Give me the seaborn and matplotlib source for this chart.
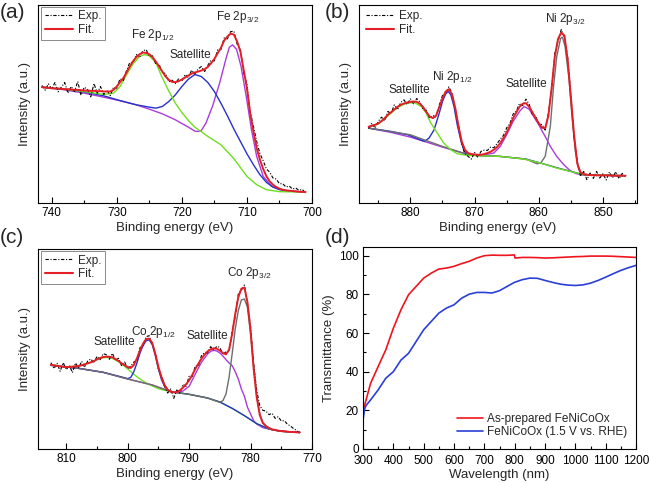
import matplotlib
matplotlib.use("Agg")
import matplotlib.pyplot as plt
from matplotlib.lines import Line2D
from matplotlib.ticker import MultipleLocator
import numpy as np
import seaborn as sns

# ---------------- (a) Fe 2p ----------------
fe_energy = np.arange(741.5, 700.9, -0.5)
fe_exp = [353, 339, 358, 342, 362, 334, 349, 362, 330, 350, 335, 365, 324, 348, 341, 319, 359, 330, 350, 326, 339, 323,
          348, 345, 373, 368, 398, 422, 422, 446, 438, 457, 461, 441, 442, 417, 417, 392, 389, 364, 369, 359,
          373, 366, 386, 377, 399, 388, 403, 410, 395, 414, 429, 427, 460, 461, 496, 493, 515, 516, 477, 460,
          390, 357, 275, 230, 185, 148, 127, 102, 93, 75, 72, 58, 58, 48, 51, 42, 45, 38, 41, 30]
fe_fit = [348, 347, 346, 345, 344, 344, 343, 342, 342, 341, 340, 340, 339, 338, 338, 337, 337, 336, 336, 335, 335, 335,
          340, 350, 363, 375, 392, 410, 426, 438, 447, 452, 451, 447, 438, 425, 410, 395, 380, 370, 364, 363,
          366, 371, 377, 383, 389, 392, 395, 398, 402, 409, 420, 433, 450, 466, 488, 500, 509, 506, 485, 455,
          400, 345, 270, 215, 165, 130, 102, 80, 65, 55, 48, 43, 40, 38, 37, 36, 35, 34, 33.5, 33]
fe_p12_e = [741.5, 738, 735, 732, 730.5, 729.5, 728.5, 727.5, 726.5, 725.7, 725, 724, 723, 722, 721, 720, 719, 718,
            716, 714, 712, 710, 708.5, 707, 705, 701]
fe_p12 = [348, 342, 335, 326, 330, 350, 385, 418, 440, 446, 442, 422, 376, 336, 300, 272, 248, 228,
          200, 175, 133, 80, 55, 40, 34, 33]
fe_sat_e = [741.5, 738, 735, 732, 729, 727, 725, 724, 723, 722, 721, 720, 719, 718, 717, 716, 715, 714, 713, 712,
            711, 710, 709, 708, 707, 706, 705, 703, 701]
fe_sat = [348, 342, 334, 322, 305, 295, 288, 285, 290, 305, 325, 350, 372, 386, 380, 362, 335, 300, 262, 222,
          185, 148, 115, 85, 62, 48, 40, 35, 33]
fe_p32_e = [741.5, 738, 735, 732, 729, 727, 725, 723, 721, 719, 718, 717.5, 717, 716.3, 715.3, 714.2, 713.2, 712.7,
            712.2, 711.6, 710.9, 710.1, 709.3, 708.5, 707.5, 706.2, 704.4, 702, 701]
fe_p32 = [348, 340, 330, 318, 305, 295, 282, 268, 250, 228, 216, 215, 218, 240, 290, 360, 435, 468,
          475, 462, 410, 320, 220, 140, 80, 50, 38, 34, 33]

# ---------------- (b) Ni 2p ----------------
ni_energy = np.arange(886.5, 846.4, -0.5)
ni_exp = [224, 240, 225, 245, 258, 247, 275, 269, 295, 280, 302, 310, 296, 313,
          298, 314, 303, 280, 279, 255, 263, 258, 294, 323, 330, 349, 329, 279,
          235, 177, 148, 140, 132, 152, 137, 155, 159, 158, 168, 166, 178, 192,
          203, 226, 238, 267, 276, 299, 293, 312, 297, 267, 262, 236, 236, 219,
          270, 339, 450, 486, 521, 498, 438, 324, 195, 128, 80, 95, 70, 90,
          74, 95, 75, 88, 69, 93, 76, 94, 73, 89, 78]
ni_fit = [229, 232, 235, 239, 246, 255, 265, 273, 281, 289, 295, 299, 302, 304,
          305, 304, 298, 288, 273, 260, 255, 262, 288, 314, 335, 342, 325, 285,
          230, 185, 160, 150, 147, 146, 145, 145, 147, 150, 154, 160, 168, 180,
          195, 212, 232, 255, 272, 289, 298, 300, 289, 273, 255, 240, 226, 225,
          262, 345, 440, 493, 512, 503, 430, 318, 205, 118, 92, 87, 85, 84,
          84, 83, 83, 83, 83, 83, 82, 82, 82, 82, 82]
ni_sat1_e = [886.5, 885, 883.5, 882, 880.7, 879.4, 878.3, 877.6, 876.8, 875.8, 874.8, 873.7, 872.7, 871.1, 869,
             866, 862.3, 859.7, 857.2, 855.1, 854, 853, 846.5]
ni_sat1 = [229, 237, 262, 287, 299, 302, 290, 272, 240, 210, 180, 160, 148, 143, 142,
           140, 132, 120, 105, 95, 90, 85, 82]
ni_p12_e = [886.5, 883, 880.4, 877.8, 877.1, 876.3, 875.5, 875, 874.5, 874.1, 873.7, 873.2, 872.7, 872.1, 871.6,
            870.9, 869, 866, 862, 859.7, 857, 855, 854, 853, 846.5]
ni_p12 = [225, 215, 205, 185, 195, 220, 270, 305, 328, 335, 325, 290, 235, 185, 155,
          145, 142, 140, 132, 120, 105, 95, 90, 85, 82]
ni_sat2_e = [886.5, 883, 880, 877.5, 875, 872.7, 871, 869, 867, 866, 865, 864, 863, 862.3, 861.5, 860.8, 860,
             859.5, 859, 858.2, 857.2, 856.1, 855.1, 854.1, 853, 846.5]
ni_sat2 = [225, 212, 198, 183, 168, 155, 146, 143, 150, 170, 205, 245, 275, 290, 282, 260, 235,
           217, 200, 170, 140, 115, 97, 88, 84, 82]
ni_p32_e = [886.5, 880, 875, 871, 866, 862, 860.3, 859.7, 859, 858.2, 857.7, 857.2, 856.6, 856.3, 855.9, 855.3,
            854.8, 854.3, 853.8, 853.3, 852, 846.5]
ni_p32 = [225, 205, 170, 145, 140, 132, 118, 120, 140, 230, 350, 440, 495, 498, 470, 375,
          255, 155, 102, 88, 84, 82]

# ---------------- (c) Co 2p ----------------
co_energy = np.arange(812.5, 771.9, -0.5)
co_exp = [259, 241, 257, 233, 259, 238, 251, 229, 258, 243, 263, 245, 264, 270,
          258, 278, 268, 286, 283, 269, 287, 266, 272, 250, 261, 241, 249, 261,
          266, 304, 311, 337, 340, 312, 290, 238, 221, 188, 168, 180, 152, 177,
          168, 194, 188, 218, 217, 249, 249, 280, 289, 288, 307, 296, 308, 305,
          283, 292, 292, 352, 397, 465, 476, 492, 434, 367, 255, 175, 130, 116,
          114, 103, 107, 92, 97, 84, 85, 74, 69, 61, 56, 46]
co_fit = [253, 251, 249, 248, 247, 246, 246, 247, 248, 249, 251, 254, 257, 260,
          264, 269, 273, 276, 277, 277, 275, 270, 264, 257, 251, 246, 243, 252,
          272, 296, 316, 330, 331, 318, 285, 246, 215, 192, 178, 172, 170, 171,
          176, 184, 194, 206, 222, 240, 256, 270, 283, 293, 299, 302, 301, 295,
          288, 284, 298, 345, 405, 455, 481, 484, 440, 355, 240, 155, 102, 78,
          69, 63, 59, 57, 55, 54, 53, 52, 51, 51, 50, 50]
co_sat1_e = [812.5, 810, 808, 806, 804.5, 803.5, 802.5, 801.5, 800.5, 800, 799.5, 799, 798, 797, 796, 795, 794,
             793, 790, 787, 785, 783, 781, 779, 777, 775, 772]
co_sat1 = [253, 246, 249, 260, 272, 275, 272, 262, 248, 240, 232, 224, 210, 198, 189, 181, 176,
           172, 164, 153, 141, 122, 100, 76, 60, 53, 50]
co_p12_e = [812.5, 808, 804, 801, 800, 799.5, 799, 798.5, 798, 797.5, 797, 796.5, 796, 795.5, 795, 794.5, 794,
            793.5, 793, 790, 787, 785, 783, 781, 779, 777, 775, 772]
co_p12 = [251, 242, 230, 216, 211, 215, 232, 258, 288, 310, 325, 327, 313, 280, 240, 208, 188,
          177, 172, 164, 153, 141, 122, 100, 76, 60, 53, 50]
co_sat2_e = [812.5, 808, 804, 800, 796, 793, 792, 791, 790, 789, 788, 787, 786.5, 786, 785.5, 785, 784.5, 784,
             783.5, 783, 782.5, 782, 781.5, 781, 780.5, 780, 779.5, 779, 778, 776, 774, 772]
co_sat2 = [251, 242, 230, 210, 192, 172, 169, 174, 188, 225, 260, 285, 293, 296, 294, 288, 279, 268,
           258, 250, 232, 210, 180, 158, 125, 105, 85, 75, 64, 56, 52, 50]
co_p32_e = [812.5, 808, 804, 800, 796, 793, 790, 787, 785.5, 785, 784.5, 784, 783.5, 783, 782.5, 782, 781.5, 781,
            780.5, 780, 779.5, 779, 778.5, 778, 777, 775, 772]
co_p32 = [251, 242, 230, 210, 192, 172, 164, 153, 143, 140, 145, 165, 215, 285, 360, 415, 447, 450,
          425, 345, 250, 160, 105, 78, 60, 53, 50]

# ---------------- (d) transmittance ----------------
wavelength = [300, 305, 310, 325, 350, 375, 400, 425, 450, 475, 500, 525, 550, 575, 600, 625, 650, 675, 700, 725,
              750, 775, 799, 801, 825, 850, 875, 900, 925, 950, 975, 1000, 1025, 1050, 1075, 1100, 1125, 1150,
              1175, 1200]
t_prepared = [20, 22.5, 25.4, 34, 42.7, 51.3, 62.5, 72, 79.8, 84.1, 88.4, 91, 93.1, 93.6, 94.5, 95.9, 97.1, 98.8,
              100, 100.3, 100.2, 100.2, 100.4, 98.8, 99.1, 99.1, 99, 98.8, 98.9, 99.1, 99.3, 99.5, 99.6, 99.8,
              99.8, 99.8, 99.7, 99.5, 99.3, 99.1]
t_after = [15, 20.5, 22.5, 25.4, 30.6, 36.6, 40, 46, 49.5, 55.6, 61.7, 66, 70.3, 72.9, 74.6, 78, 80.1, 81, 81,
           80.7, 81.9, 84.1, 86.2, 86.3, 87.6, 88.4, 88.3, 87.2, 86.2, 85.3, 84.8, 84.6, 84.9, 85.8, 87.2, 88.9,
           90.7, 92.4, 93.8, 95]

RED = "#e41e26"
GREEN = "#6ee01e"
BLUE = "#2832c8"
PURPLE = "#aa3cdc"
GRAY = "#6e6e6e"
EXP_DASH = (0, (3, 1.5, 1, 1.5))

sns.set_theme(style="ticks")
plt.rcParams["font.family"] = ["Liberation Sans", "DejaVu Sans"]
plt.rcParams["mathtext.default"] = "regular"
plt.rcParams["axes.edgecolor"] = "black"
plt.rcParams["axes.linewidth"] = 0.8
plt.rcParams["xtick.color"] = "black"
plt.rcParams["ytick.color"] = "black"


def line(ax, x, y, color, lw=1.0, ls="-"):
    sns.lineplot(x=list(x), y=list(y), ax=ax, color=color, linewidth=lw, linestyle=ls,
                 sort=False, estimator=None, legend=False)


def style_xps(ax, xlim, ylim, xticks):
    ax.set_xlim(*xlim)
    ax.set_ylim(*ylim)
    ax.set_xticks(xticks)
    ax.xaxis.set_minor_locator(MultipleLocator(5))
    ax.set_yticks([])
    ax.tick_params(axis="x", which="major", direction="in", length=4, width=0.8, labelsize=8.5, pad=3)
    ax.tick_params(axis="x", which="minor", direction="in", length=2.5, width=0.8)
    ax.set_xlabel("Binding energy (eV)", fontsize=9.5, labelpad=2)
    ax.set_ylabel("Intensity (a.u.)", fontsize=9.5, labelpad=5)


def xps_legend(ax, frame=True):
    h_exp = Line2D([], [], color="black", lw=0.8, linestyle=EXP_DASH)
    h_fit = Line2D([], [], color=RED, lw=1.5)
    leg = ax.legend([h_exp, h_fit], ["Exp.", "Fit."], loc="upper left", bbox_to_anchor=(0.012, 0.99),
                    frameon=frame, fancybox=False, edgecolor="#555555", fontsize=8.5, handlelength=2.4,
                    handletextpad=0.4, labelspacing=0.15, borderpad=0.3, borderaxespad=0)
    leg.get_frame().set_linewidth(0.6)


fig = plt.figure(figsize=(6.5, 4.83), dpi=100)
ax_a = fig.add_axes([0.0585, 0.5797, 0.4215, 0.41])
ax_b = fig.add_axes([0.5523, 0.5797, 0.4277, 0.41])
ax_c = fig.add_axes([0.0585, 0.0704, 0.4215, 0.4141])
ax_d = fig.add_axes([0.5585, 0.0704, 0.42, 0.4182])

# (a)
line(ax_a, fe_p32_e, fe_p32, PURPLE)
line(ax_a, fe_sat_e, fe_sat, BLUE)
line(ax_a, fe_p12_e, fe_p12, GREEN)
line(ax_a, fe_energy, fe_exp, "black", lw=0.8, ls=EXP_DASH)
line(ax_a, fe_energy, fe_fit, RED, lw=1.4)
style_xps(ax_a, (742.1, 700), (0, 595), [740, 730, 720, 710, 700])
xps_legend(ax_a)
ax_a.text(724.5, 505, "Fe 2p$_{1/2}$", ha="center", va="center", fontsize=8.5)
ax_a.text(718.7, 445, "Satellite", ha="center", va="center", fontsize=8.5)
ax_a.text(711.4, 558, "Fe 2p$_{3/2}$", ha="center", va="center", fontsize=8.5)

# (b)
line(ax_b, ni_sat2_e, ni_sat2, PURPLE)
line(ax_b, ni_p12_e, ni_p12, BLUE)
line(ax_b, ni_p32_e, ni_p32, GRAY)
line(ax_b, ni_sat1_e, ni_sat1, GREEN)
line(ax_b, ni_energy, ni_exp, "black", lw=0.8, ls=EXP_DASH)
line(ax_b, ni_energy, ni_fit, RED, lw=1.4)
style_xps(ax_b, (888, 844.7), (0, 595), [880, 870, 860, 850])
xps_legend(ax_b, frame=False)
ax_b.text(880.2, 340, "Satellite", ha="center", va="center", fontsize=8.5)
ax_b.text(873.5, 378, "Ni 2p$_{1/2}$", ha="center", va="center", fontsize=8.5)
ax_b.text(862.0, 358, "Satellite", ha="center", va="center", fontsize=8.5)
ax_b.text(855.8, 553, "Ni 2p$_{3/2}$", ha="center", va="center", fontsize=8.5)

# (c)
line(ax_c, co_sat2_e, co_sat2, PURPLE)
line(ax_c, co_sat1_e, co_sat1, GREEN)
line(ax_c, co_p12_e, co_p12, BLUE)
line(ax_c, co_p32_e, co_p32, GRAY)
line(ax_c, co_energy, co_exp, "black", lw=0.8, ls=EXP_DASH)
line(ax_c, co_energy, co_fit, RED, lw=1.4)
style_xps(ax_c, (814.6, 770), (0, 600), [810, 800, 790, 780, 770])
xps_legend(ax_c)
ax_c.text(802.2, 321, "Satellite", ha="center", va="center", fontsize=8.5)
ax_c.text(795.8, 352, "Co 2p$_{1/2}$", ha="center", va="center", fontsize=8.5)
ax_c.text(787.1, 340, "Satellite", ha="center", va="center", fontsize=8.5)
ax_c.text(780.2, 527, "Co 2p$_{3/2}$", ha="center", va="center", fontsize=8.5)

# (d)
line(ax_d, wavelength, t_prepared, "#f0141e", lw=1.2)
line(ax_d, wavelength, t_after, "#2a3fd6", lw=1.2)
ax_d.set_xlim(300, 1200)
ax_d.set_ylim(0, 104.5)
ax_d.set_xticks(range(300, 1201, 100))
ax_d.set_yticks(range(0, 101, 20))
ax_d.xaxis.set_minor_locator(MultipleLocator(50))
ax_d.yaxis.set_minor_locator(MultipleLocator(10))
ax_d.tick_params(which="major", direction="in", length=4, width=0.8, labelsize=8.5)
ax_d.tick_params(which="minor", direction="in", length=2.5, width=0.8)
ax_d.tick_params(axis="x", which="major", pad=4.5)
ax_d.tick_params(axis="y", which="major", pad=3)
ax_d.set_xlabel("Wavelength (nm)", fontsize=9.5, labelpad=1)
ax_d.set_ylabel("Transmittance (%)", fontsize=9.5, labelpad=3)
h1 = Line2D([], [], color="#f0141e", lw=1.2)
h2 = Line2D([], [], color="#2a3fd6", lw=1.2)
ax_d.legend([h1, h2], ["As-prepared FeNiCoOx", "FeNiCoOx (1.5 V vs. RHE)"], loc="lower right",
            bbox_to_anchor=(0.985, 0.03), frameon=False, fontsize=8.5, handlelength=2.2,
            handletextpad=0.3, labelspacing=0.1, borderaxespad=0)

for txt, x, y in [("(a)", 0.0, 1 - 13 / 483), ("(b)", 0.499, 1 - 13 / 483),
                  ("(c)", 0.0, 1 - 238 / 483), ("(d)", 0.499, 1 - 238 / 483)]:
    fig.text(x, y, txt, fontsize=15, ha="left", va="center")

fig.savefig("out.png", dpi=100)
